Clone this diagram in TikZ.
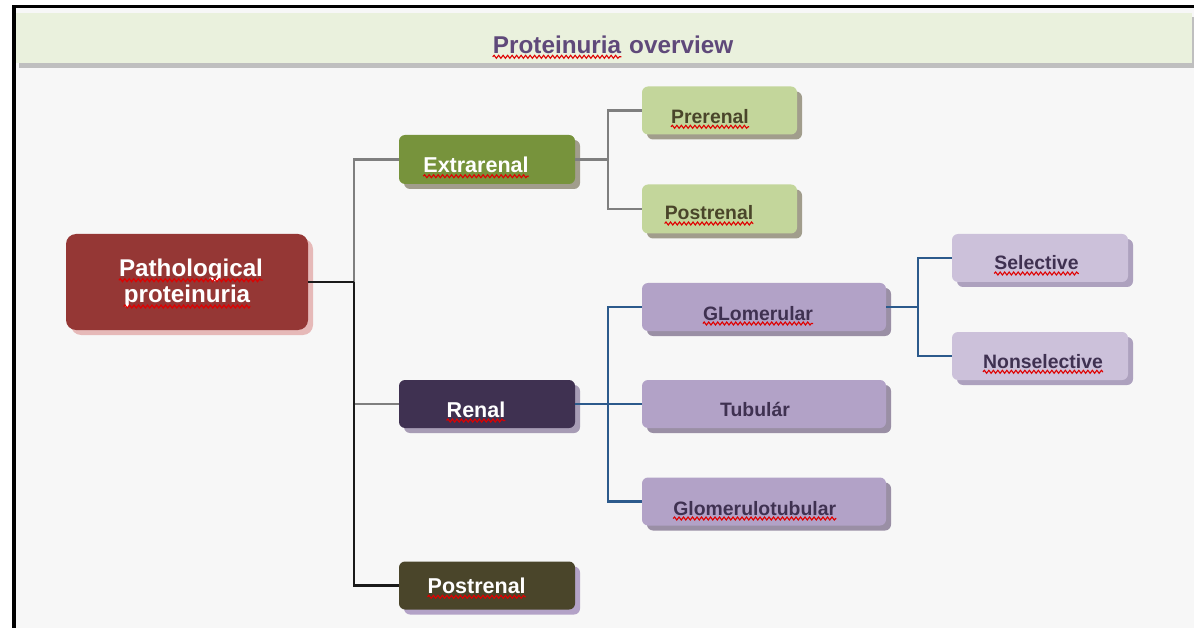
\documentclass[tikz,border=0pt]{standalone}
\usepackage{fontspec}
\setmainfont{Liberation Sans}
\usetikzlibrary{shadows,decorations.pathmorphing}
\definecolor{bgc}{HTML}{F7F7F7}
\definecolor{bandc}{HTML}{EAF1DD}
\definecolor{bandsh}{HTML}{BFBFBF}
\definecolor{titlec}{HTML}{5F497A}
\definecolor{pathc}{HTML}{953735}
\definecolor{pathsh}{HTML}{E6B9B8}
\definecolor{extc}{HTML}{77933C}
\definecolor{olsh}{HTML}{A19D8C}
\definecolor{lgreen}{HTML}{C3D69B}
\definecolor{lgtext}{HTML}{4A452A}
\definecolor{renc}{HTML}{3F3151}
\definecolor{rensh}{HTML}{A79CB5}
\definecolor{purc}{HTML}{B2A2C7}
\definecolor{pursh}{HTML}{9A8FA5}
\definecolor{lpurc}{HTML}{CCC1DA}
\definecolor{lpursh}{HTML}{ADA1BE}
\definecolor{postc}{HTML}{4A452A}
\definecolor{postsh}{HTML}{B3A2C7}
\definecolor{grayln}{HTML}{7F7F7F}
\definecolor{blackln}{HTML}{1A1A1A}
\definecolor{blueln}{HTML}{2C5A8C}
\definecolor{squigc}{HTML}{E00000}
\newcommand\mysquig[1]{\draw[squig] ([yshift=-3.5pt]#1.base west) -- ([yshift=-3.5pt]#1.base east);}
\tikzset{
  box/.style={rounded corners=6pt, inner sep=0pt, draw=none},
  boxsh/.style={drop shadow={shadow xshift=5pt,shadow yshift=-5pt,opacity=1,fill=#1}},
  bigtxt/.style={inner sep=0pt, anchor=base, font=\fontsize{24.2}{28}\selectfont\bfseries, text=white},
  wtxt/.style={inner sep=0pt, anchor=base, font=\fontsize{21.5}{25}\selectfont\bfseries, text=white},
  ltxt/.style={inner sep=0pt, anchor=base, font=\fontsize{19.4}{23}\selectfont\bfseries, text=#1},
  ttl/.style={inner sep=0pt, anchor=base west, font=\fontsize{24.3}{28}\selectfont\bfseries, text=titlec},
  squig/.style={draw=squigc, line width=1.1pt, decorate, decoration={snake, amplitude=1.5pt, segment length=4.5pt}},
  gline/.style={draw=grayln, line width=2.2pt},
  kline/.style={draw=blackln, line width=2.2pt},
  bline/.style={draw=blueln, line width=2.2pt}
}
\begin{document}
\begin{tikzpicture}[x=1pt,y=-1pt]
\useasboundingbox (0,0) rectangle (1194,628);
\fill[white] (0,0) rectangle (1194,628);
\fill[bgc] (14,6.5) rectangle (1194,628);
% title band
\fill[bandsh] (19,17) rectangle (1194,68);
\fill[bandc] (16,13) rectangle (1192,63);
\draw[line width=3.6pt, line join=miter] (14,628) -- (14,6.5) -- (1194,6.5);
\node[ttl] (t1) at (492.7,53.3) {Proteinuria};
\node[ttl] (t2) at (629,53.3) {overview};
\mysquig{t1}

% boxes
\node[box, rounded corners=10pt, fill=pathc, boxsh=pathsh, minimum width=242pt, minimum height=96pt] (path) at (187,282) {};
\node[box, fill=extc, boxsh=olsh, minimum width=176pt, minimum height=49pt] (ext) at (487,159.5) {};
\node[box, fill=lgreen, boxsh=olsh, minimum width=155pt, minimum height=48pt] (pre) at (719.5,110.5) {};
\node[box, fill=lgreen, boxsh=olsh, minimum width=155pt, minimum height=49pt] (pos1) at (719.5,209) {};
\node[box, fill=renc, boxsh=rensh, minimum width=176pt, minimum height=48pt] (ren) at (487,404) {};
\node[box, fill=purc, boxsh=pursh, minimum width=244pt, minimum height=48pt] (glo) at (764,307) {};
\node[box, fill=purc, boxsh=pursh, minimum width=244pt, minimum height=48pt] (tub) at (764,404) {};
\node[box, fill=purc, boxsh=pursh, minimum width=244pt, minimum height=48pt] (gt) at (764,501.5) {};
\node[box, fill=lpurc, boxsh=lpursh, minimum width=176pt, minimum height=48pt] (sel) at (1040,258) {};
\node[box, fill=lpurc, boxsh=lpursh, minimum width=176pt, minimum height=48pt] (non) at (1040,356) {};
\node[box, fill=postc, boxsh=postsh, minimum width=176pt, minimum height=48pt] (pos2) at (487,585.5) {};

% connectors
\coordinate (b1) at (354,282);
\coordinate (b2) at (608,159.5);
\coordinate (b3) at (608,404);
\coordinate (b4) at (918,307);
\draw[gline] (b1) |- (ext.west);
\draw[gline] (ren.west -| b1) -- (ren.west);
\draw[kline] (path.east) -- (b1);
\draw[kline] (b1) |- (pos2.west);
\draw[gline] (ext.east) -- (b2);
\draw[gline] (b2) |- (pre.west);
\draw[gline] (b2) |- (pos1.west);
\draw[bline] (ren.east) -- (b3);
\draw[bline] (b3) |- (glo.west);
\draw[bline] (b3) -- (tub.west);
\draw[bline] (b3) |- (gt.west);
\draw[bline] (glo.east) -- (b4);
\draw[bline] (b4) |- (sel.west);
\draw[bline] (b4) |- (non.west);

% texts
\node[bigtxt] (pathA) at (191,276.7) {Pathological};
\node[bigtxt] (pathB) at (187,303) {proteinuria};
\node[wtxt] (extT) at (476,172.7) {Extrarenal};
\node[ltxt=lgtext] (preT) at (710,123.3) {Prerenal};
\node[ltxt=lgtext] (pos1T) at (709,220) {Postrenal};
\node[wtxt] (renT) at (476,417) {Renal};
\node[ltxt=renc] (gloT) at (758,320) {GLomerular};
\node[ltxt=renc] (tubT) at (755,416) {Tubulár};
\node[ltxt=renc] (gtT) at (754.7,515) {Glomerulotubular};
\node[ltxt=renc] (selT) at (1036.5,270) {Selective};
\node[ltxt=renc] (nonT) at (1043,368.3) {Nonselective};
\node[wtxt] (pos2T) at (476.7,593.3) {Postrenal};
\mysquig{pathA}
\mysquig{pathB}
\mysquig{extT}
\mysquig{preT}
\mysquig{pos1T}
\mysquig{renT}
\mysquig{gloT}
\mysquig{gtT}
\mysquig{selT}
\mysquig{nonT}
\mysquig{pos2T}
\end{tikzpicture}
\end{document}
